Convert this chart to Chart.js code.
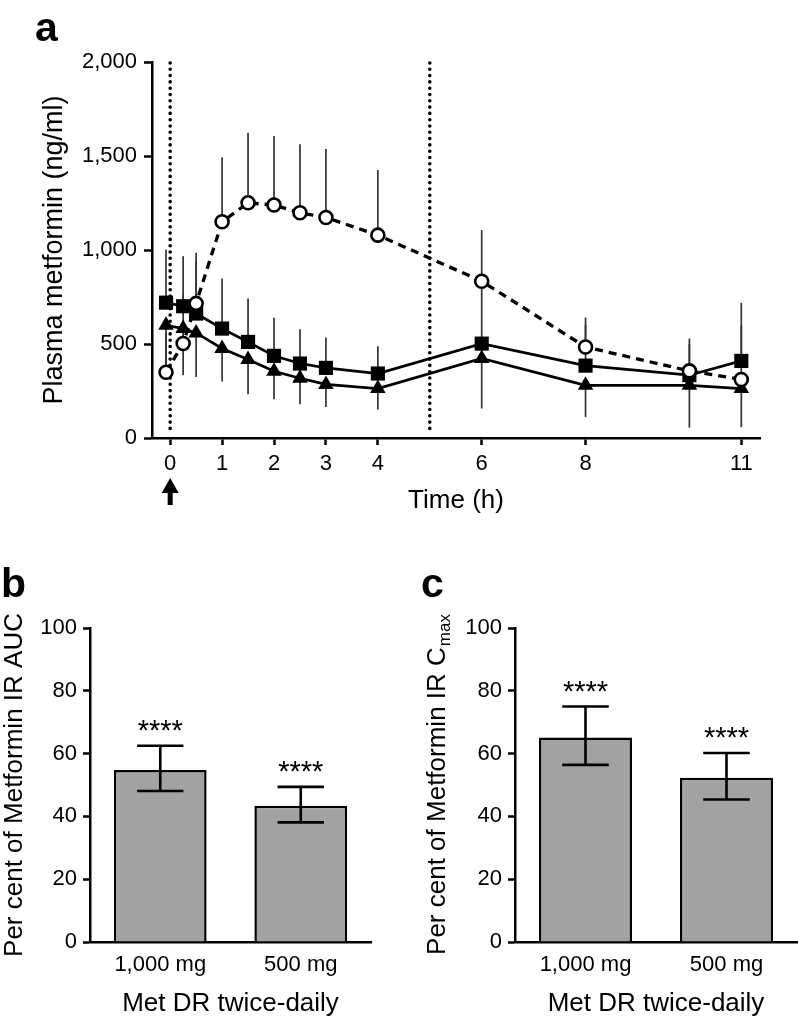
<!DOCTYPE html>
<html>
<head>
<meta charset="utf-8">
<script src="https://cdn.jsdelivr.net/npm/chart.js@4"></script>
<style>
  html, body { margin:0; padding:0; background:#fff; }
  body { width:798px; height:1019px; position:relative; overflow:hidden; }
  canvas { position:absolute; }
  #canA { left:0; top:0; }
  #canB { left:0; top:560px; }
  #canC { left:400px; top:560px; }
</style>
</head>
<body>
<canvas id="canA" width="798" height="540"></canvas>
<canvas id="canB" width="400" height="459"></canvas>
<canvas id="canC" width="398" height="459"></canvas>
<script>
// panel a: plasma metformin over time
const times = [-0.08, 0.25, 0.5, 1, 1.5, 2, 2.5, 3, 4, 6, 8, 10, 11];
const irMean = [350, 503, 716, 1150, 1251, 1239, 1198, 1173, 1079, 834, 484, 357, 311];
const irUpper = [560, 760, 985, 1493, 1624, 1606, 1562, 1537, 1425, 1106, 641, 529, 600];
const dr1000Mean = [720, 701, 662, 582, 511, 437, 396, 373, 343, 502, 385, 334, 410];
const dr1000Upper = [1003, 967, 940, 849, 742, 639, 579, 534, 488, 800, 600, 500, 719];
const dr500Mean = [600, 582, 559, 476, 417, 355, 318, 285, 263, 423, 280, 280, 263];
const dr500Lower = [380, 334, 325, 300, 233, 206, 179, 165, 152, 157, 112, 55, 58];
const xTicks = [0, 1, 2, 3, 4, 6, 8, 11];
const doseLines = [0, 5];

// panels b and c
const doseLabels = ['1,000 mg', '500 mg'];
const aucMean = [54.8, 43.4];
const aucUpper = [62.5, 49.4];
const aucLower = [48.1, 38.1];
const cmaxMean = [65.1, 52.3];
const cmaxUpper = [75.0, 60.2];
const cmaxLower = [56.4, 45.4];
const sigLabels = ['****', '****'];

const FAM = '"Liberation Sans", Arial, Helvetica, sans-serif';
Chart.defaults.font.family = FAM;
Chart.defaults.color = '#000';

function letter(ctx, t, x, y) {
  ctx.save();
  ctx.font = 'bold 41px ' + FAM;
  ctx.fillStyle = '#000';
  ctx.textBaseline = 'alphabetic';
  ctx.fillText(t, x, y);
  ctx.restore();
}

const panelA = {
  id: 'panelA',
  beforeDatasetsDraw(chart) {
    const {ctx, chartArea, scales: {x, y}} = chart;
    ctx.save();
    ctx.strokeStyle = '#000';
    ctx.lineWidth = 3.6;
    ctx.lineCap = 'round';
    ctx.setLineDash([0, 6.3]);
    doseLines.forEach(t => {
      const px = x.getPixelForValue(t);
      ctx.beginPath();
      ctx.moveTo(px, chartArea.top + 1);
      ctx.lineTo(px, chartArea.bottom - 4);
      ctx.stroke();
    });
    ctx.setLineDash([]);
    ctx.lineCap = 'butt';
    ctx.lineWidth = 1.7;
    ctx.strokeStyle = '#333';
    [[irMean, irUpper], [dr1000Mean, dr1000Upper], [dr500Mean, dr500Lower]].forEach(([m, e]) => {
      times.forEach((t, i) => {
        const px = x.getPixelForValue(t);
        ctx.beginPath();
        ctx.moveTo(px, y.getPixelForValue(m[i]));
        ctx.lineTo(px, y.getPixelForValue(e[i]));
        ctx.stroke();
      });
    });
    ctx.restore();
  },
  afterDraw(chart) {
    const {ctx, chartArea, scales: {x}} = chart;
    // dosing arrow under t = 0
    const px = x.getPixelForValue(0);
    const b = chartArea.bottom;
    ctx.save();
    ctx.fillStyle = '#000';
    ctx.beginPath();
    ctx.moveTo(px, b + 40);
    ctx.lineTo(px - 8.5, b + 55);
    ctx.lineTo(px - 2.5, b + 55);
    ctx.lineTo(px - 2.5, b + 67);
    ctx.lineTo(px + 2.5, b + 67);
    ctx.lineTo(px + 2.5, b + 55);
    ctx.lineTo(px + 8.5, b + 55);
    ctx.closePath();
    ctx.fill();
    ctx.restore();
    letter(ctx, 'a', 35, 41);
  }
};

const pts = arr => times.map((t, i) => ({x: t, y: arr[i]}));

new Chart(document.getElementById('canA'), {
  type: 'line',
  data: {
    datasets: [
      {
        label: 'Metformin IR 1,000 mg',
        data: pts(irMean),
        borderColor: '#000', borderWidth: 3.3, borderDash: [8, 6],
        pointStyle: 'circle', pointRadius: 6.5, pointBorderWidth: 2.6,
        pointBackgroundColor: '#fff', pointBorderColor: '#000', tension: 0
      },
      {
        label: 'Met DR 1,000 mg',
        data: pts(dr1000Mean),
        borderColor: '#000', borderWidth: 2.7,
        pointStyle: 'rect', pointRadius: 10, pointBorderWidth: 0,
        pointBackgroundColor: '#000', tension: 0
      },
      {
        label: 'Met DR 500 mg',
        data: pts(dr500Mean),
        borderColor: '#000', borderWidth: 2.7,
        pointStyle: 'triangle', pointRadius: 9, pointBorderWidth: 0,
        pointBackgroundColor: '#000', tension: 0
      }
    ]
  },
  options: {
    responsive: false,
    animation: false,
    layout: {padding: {top: 62, right: 38, left: 0, bottom: 0}},
    plugins: {legend: {display: false}, tooltip: {enabled: false}},
    scales: {
      x: {
        type: 'linear', min: -0.35, max: 11.36,
        afterBuildTicks: s => { s.ticks = xTicks.map(v => ({value: v})); },
        afterFit: s => { s.height = 102; },
        border: {display: true, color: '#000', width: 2.5},
        grid: {drawOnChartArea: false, drawTicks: true, tickLength: 7, tickWidth: 2.5, color: '#000'},
        ticks: {font: {size: 22}, padding: 6, autoSkip: false, maxRotation: 0},
        title: {display: true, text: 'Time (h)', font: {size: 26, lineHeight: 1}, padding: {bottom: 26}}
      },
      y: {
        min: 0, max: 2000,
        afterFit: s => { s.width = 152; },
        border: {display: true, color: '#000', width: 2.5},
        grid: {drawOnChartArea: false, drawTicks: true, tickLength: 8, tickWidth: 2.5, color: '#000'},
        ticks: {stepSize: 500, font: {size: 22}, padding: 7, callback: v => v.toLocaleString('en-US')},
        title: {display: true, text: 'Plasma metformin (ng/ml)', font: {size: 27, lineHeight: 1}, padding: {top: 41}}
      }
    }
  },
  plugins: [panelA]
});

function barExtras(id, upper, lower, tag, subTitle) {
  return {
    id: id,
    afterDatasetsDraw(chart) {
      const {ctx, chartArea, scales: {x, y}} = chart;
      const bars = chart.getDatasetMeta(0).data;
      ctx.save();
      ctx.strokeStyle = '#000';
      ctx.lineWidth = 2.6;
      ctx.fillStyle = '#000';
      upper.forEach((u, i) => {
        const px = x.getPixelForValue(i);
        const cap = bars[i].width / 4;
        const yu = y.getPixelForValue(u);
        const yl = y.getPixelForValue(lower[i]);
        ctx.beginPath();
        ctx.moveTo(px, yu); ctx.lineTo(px, yl);
        ctx.moveTo(px - cap, yu); ctx.lineTo(px + cap, yu);
        ctx.moveTo(px - cap, yl); ctx.lineTo(px + cap, yl);
        ctx.stroke();
        ctx.font = '29px ' + FAM;
        ctx.textAlign = 'center';
        ctx.textBaseline = 'alphabetic';
        ctx.fillText(sigLabels[i], px, yu - 6);
      });
      ctx.restore();
      if (subTitle) {
        // y title with subscript
        ctx.save();
        ctx.translate(45, (chartArea.top + chartArea.bottom) / 2);
        ctx.rotate(-Math.PI / 2);
        ctx.fillStyle = '#000';
        ctx.textBaseline = 'alphabetic';
        ctx.textAlign = 'left';
        ctx.font = '26px ' + FAM;
        const wMain = ctx.measureText(subTitle[0]).width;
        ctx.font = '17px ' + FAM;
        const wSub = ctx.measureText(subTitle[1]).width;
        const start = -(wMain + wSub) / 2;
        ctx.font = '26px ' + FAM;
        ctx.fillText(subTitle[0], start, 0);
        ctx.font = '17px ' + FAM;
        ctx.fillText(subTitle[1], start + wMain + 1, 5);
        ctx.restore();
      }
      letter(ctx, tag[0], tag[1], tag[2]);
    }
  };
}

function barChart(id, mean, upper, lower, yWidth, right, yTitle, plugin) {
  return new Chart(document.getElementById(id), {
    type: 'bar',
    data: {
      labels: doseLabels,
      datasets: [{
        data: mean,
        backgroundColor: '#a2a2a2',
        borderColor: '#000',
        borderWidth: 2.5,
        categoryPercentage: 1,
        barPercentage: 0.66
      }]
    },
    options: {
      responsive: false,
      animation: false,
      layout: {padding: {top: 68, right: right, left: 0, bottom: 0}},
      plugins: {legend: {display: false}, tooltip: {enabled: false}},
      scales: {
        x: {
          afterFit: s => { s.height = 77; },
          border: {display: true, color: '#000', width: 2.5},
          grid: {display: false},
          ticks: {font: {size: 22}, padding: 2},
          title: {display: true, text: 'Met DR twice-daily', font: {size: 26, lineHeight: 1}, padding: {bottom: 2}}
        },
        y: {
          min: 0, max: 100,
          afterFit: s => { s.width = yWidth; },
          border: {display: true, color: '#000', width: 2.5},
          grid: {drawOnChartArea: false, drawTicks: true, tickLength: 7, tickWidth: 2.5, color: '#000'},
          ticks: {stepSize: 20, font: {size: 22}, padding: 6},
          title: yTitle
        }
      }
    },
    plugins: [plugin]
  });
}

barChart('canB', aucMean, aucUpper, aucLower, 90, 29,
  {display: true, text: 'Per cent of Metformin IR AUC', font: {size: 26, lineHeight: 1}, padding: {top: 2}},
  barExtras('extrasB', aucUpper, aucLower, ['b', 1, 37], null));

barChart('canC', cmaxMean, cmaxUpper, cmaxLower, 115, 1,
  {display: false},
  barExtras('extrasC', cmaxUpper, cmaxLower, ['c', 21, 37], ['Per cent of Metformin IR C', 'max']));
</script>
</body>
</html>
